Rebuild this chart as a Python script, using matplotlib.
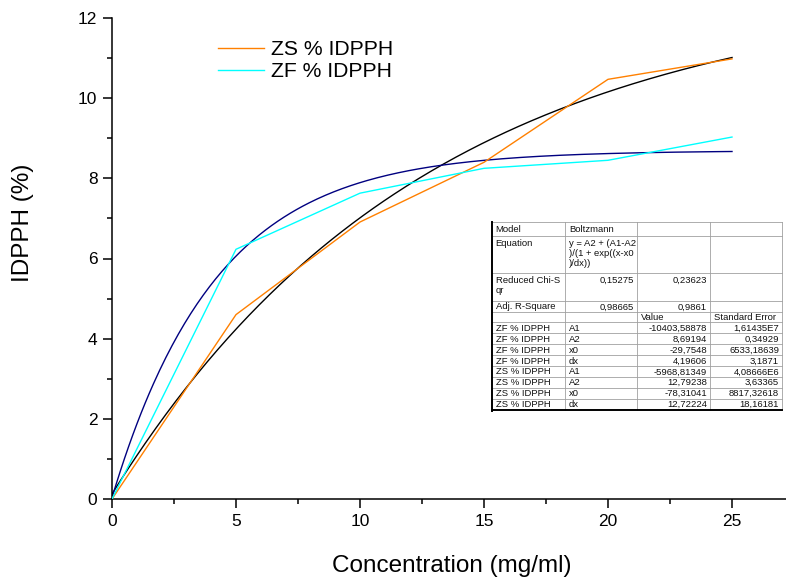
import numpy as np
import matplotlib
matplotlib.use("Agg")
import matplotlib.pyplot as plt
from matplotlib.lines import Line2D
from matplotlib.ticker import MultipleLocator

plt.rcParams["font.family"] = ["Liberation Sans", "DejaVu Sans"]

# measured points
CONC = [0, 5, 10, 15, 20, 25]
ZS_IDPPH = [0, 4.60, 6.91, 8.40, 10.47, 10.98]
ZF_IDPPH = [0, 6.23, 7.63, 8.25, 8.45, 9.03]

# Boltzmann fit parameters, as printed in the results table
ZF_FIT = dict(A1=-10403.58878, A2=8.69194, x0=-29.7548, dx=4.19606)
ZS_FIT = dict(A1=-5968.81349, A2=12.79238, x0=-78.31041, dx=12.72224)

TABLE_ROWS = [
    ["Model", "Boltzmann", "", ""],
    ["Equation", "y = A2 + (A1-A2\n)/(1 + exp((x-x0\n)/dx))", "", ""],
    ["Reduced Chi-S\nqr", "0,15275", "0,23623", ""],
    ["Adj. R-Square", "0,98665", "0,9861", ""],
    ["", "", "Value", "Standard Error"],
    ["ZF % IDPPH", "A1", "-10403,58878", "1,61435E7"],
    ["ZF % IDPPH", "A2", "8,69194", "0,34929"],
    ["ZF % IDPPH", "x0", "-29,7548", "6533,18639"],
    ["ZF % IDPPH", "dx", "4,19606", "3,1871"],
    ["ZS % IDPPH", "A1", "-5968,81349", "4,08666E6"],
    ["ZS % IDPPH", "A2", "12,79238", "3,63365"],
    ["ZS % IDPPH", "x0", "-78,31041", "8817,32618"],
    ["ZS % IDPPH", "dx", "12,72224", "18,16181"],
]

W, H = 786, 583
ORANGE = "#ff8000"
CYAN = "#00ffff"
NAVY = "#000080"

# table layout in figure pixels
COL_X = [491.7, 565, 636.7, 710, 782]
ROW_Y = [222, 235.7, 272.7, 301, 311.7, 322.3, 333.3, 344.3, 355, 366,
         376.7, 387.7, 398.6, 409.5]


def boltzmann(x, A1, A2, x0, dx):
    return A2 + (A1 - A2) / (1 + np.exp((x - x0) / dx))


def is_number(s):
    return len(s) > 0 and (s[0].isdigit() or (s[0] == "-" and s[1:2].isdigit()))


fig = plt.figure(figsize=(W / 100, H / 100), dpi=100)
ax = fig.add_axes([112 / W, 84 / H, 674 / W, 481 / H])

xs = np.linspace(0, 25, 300)
ax.plot(xs, boltzmann(xs, **ZS_FIT), color="black", lw=1.0, zorder=2)
ax.plot(xs, boltzmann(xs, **ZF_FIT), color=NAVY, lw=1.0, zorder=2)
ax.plot(CONC, ZS_IDPPH, color=ORANGE, lw=1.0, zorder=3)
ax.plot(CONC, ZF_IDPPH, color=CYAN, lw=1.0, zorder=3)

ax.set_xlim(0, 674 / 24.8)
ax.set_ylim(0, 12)
ax.xaxis.set_major_locator(MultipleLocator(5))
ax.xaxis.set_minor_locator(MultipleLocator(2.5))
ax.yaxis.set_major_locator(MultipleLocator(2))
ax.yaxis.set_minor_locator(MultipleLocator(1))
for s in ["top", "right"]:
    ax.spines[s].set_visible(False)
for s in ["left", "bottom"]:
    ax.spines[s].set_linewidth(1.1)
ax.tick_params(which="major", direction="out", length=6.5, width=1.1,
               labelsize=12.5, pad=4)
ax.tick_params(which="minor", direction="out", length=3.6, width=1.1)

fig.text(23 / W, 1 - 223 / H, "IDPPH (%)", rotation=90, fontsize=17.5,
         ha="center", va="center")
fig.text(452 / W, 1 - 566 / H, "Concentration (mg/ml)", fontsize=17.5,
         ha="center", va="center")

handles = [Line2D([0], [0], color=ORANGE, lw=1.0, label="ZS % IDPPH"),
           Line2D([0], [0], color=CYAN, lw=1.0, label="ZF % IDPPH")]
fig.legend(handles=handles, loc="upper left",
           bbox_to_anchor=(218 / W, 1 - 40 / H), bbox_transform=fig.transFigure,
           frameon=False, fontsize=15.2, handlelength=2.2, handletextpad=0.33,
           labelspacing=0.16, borderpad=0, borderaxespad=0)

# results table drawn on a pixel-space overlay
tax = fig.add_axes([0, 0, 1, 1], zorder=5)
tax.set_xlim(0, W)
tax.set_ylim(H, 0)
tax.set_axis_off()
tax.patch.set_alpha(0)

tax.fill_between([COL_X[0], COL_X[-1]], ROW_Y[0], ROW_Y[-1], color="white", zorder=0)
for y in ROW_Y[:-1]:
    tax.plot([COL_X[0], COL_X[-1]], [y, y], color="#a0a0a0", lw=0.6)
for x in COL_X[1:]:
    tax.plot([x, x], [ROW_Y[0], ROW_Y[-1]], color="#a0a0a0", lw=0.6)
tax.plot([COL_X[0], COL_X[0]], [ROW_Y[0], ROW_Y[-1] + 1], color="black", lw=1.4)
tax.plot([COL_X[0], COL_X[-1]], [ROW_Y[-1], ROW_Y[-1]], color="black", lw=1.4)

for r, row in enumerate(TABLE_ROWS):
    top, bot = ROW_Y[r], ROW_Y[r + 1]
    for c, txt in enumerate(row):
        if not txt:
            continue
        multi = "\n" in txt or (bot - top) > 20
        y = top + 3.5 if multi else (top + bot) / 2 + 0.5
        va = "top" if multi else "center"
        if is_number(txt):
            tax.text(COL_X[c + 1] - 3, y, txt, ha="right", va=va, fontsize=6.8,
                     color="#111111", linespacing=1.1)
        else:
            tax.text(COL_X[c] + 4, y, txt, ha="left", va=va, fontsize=6.8,
                     color="#111111", linespacing=1.1)

fig.savefig("out.png", dpi=100)
